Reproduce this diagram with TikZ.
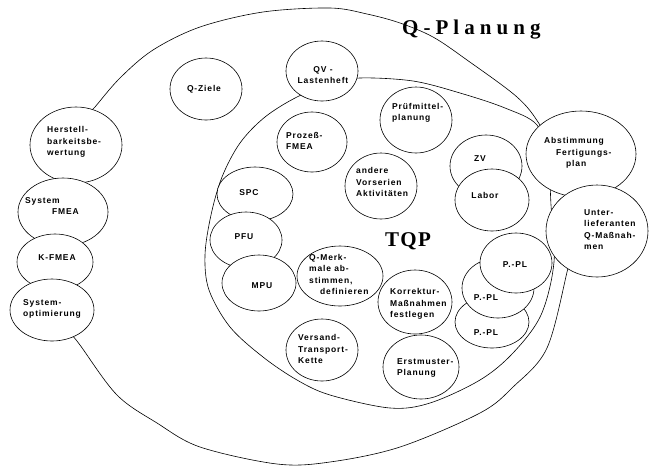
\documentclass[tikz,border=0pt]{standalone}
\usepackage{fontspec}
\usetikzlibrary{shapes.geometric}
\newfontfamily\lblfamily{Liberation Sans}[LetterSpace=10]
\newfontfamily\ttlfamily{Liberation Serif}[LetterSpace=24]
\newfontfamily\tqpfamily{Liberation Serif}[LetterSpace=6]
\newcommand\lblfont{\lblfamily\bfseries\fontsize{8.5}{11.5}\selectfont}
\newcommand\ttlfont{\ttlfamily\bfseries\fontsize{21}{24}\selectfont}
\newcommand\tqpfont{\tqpfamily\bfseries\fontsize{21}{24}\selectfont}
\tikzset{
  bub/.style={ellipse, draw, fill=white, line width=0.6pt, inner sep=0pt},
  lbl/.style={font=\lblfont, align=left, inner sep=0pt, anchor=west},
  ctr/.style={font=\lblfont, align=center, inner sep=0pt},
  ttl/.style={inner sep=0pt, anchor=base west},
  rim/.style={line width=0.6pt},
}
\newcommand\bub[5]{\node[bub, minimum width=#4pt, minimum height=#5pt] (#1) at (#2,#3) {};}
\begin{document}
\begin{tikzpicture}[x=1pt,y=-1pt]
\useasboundingbox (0,0) rectangle (649,467);
\fill[white] (0,0) rectangle (649,467);

% outer boundary: Q-Planung
\draw[rim] plot[smooth cycle, tension=0.55] coordinates {
  (80,125) (95,107) (120,78) (153,50) (200,27) (263,12) (330,8) (367,14)
  (400,23) (433,37) (467,60) (517,97) (540,125) (565,170) (578,225)
  (568,268) (547,348) (513,387) (480,413) (400,447) (330,462) (277,464)
  (200,447) (157,423) (117,395) (80,345) (55,310) (50,260) (55,210)};

% inner boundary: TQP
\draw[rim] plot[smooth cycle, tension=0.55] coordinates {
  (297,97) (330,84) (360,78) (413,81) (460,93) (505,108) (537,125)
  (548,160) (551,205) (554,262) (541,315) (513,353) (480,380) (430,403)
  (390,408) (330,395) (297,380) (263,357) (230,327) (209,290) (205,255)
  (211,215) (222,177) (240,143) (265,117)};

% bubbles on the outer ring
\bub{qziele}{206}{89}{72}{62}
\bub{qv}{322}{71}{72}{60}
\bub{herst}{76}{145}{92}{76}
\bub{sysfmea}{63}{212}{90}{68}
\bub{kfmea}{55}{262}{76}{56}
\bub{sysopt}{52}{310}{84}{62}
\bub{abst}{581}{154}{110}{86}
\bub{unterl}{597}{231}{102}{92}

% bubbles inside TQP
\bub{prozess}{312}{142}{70}{60}
\bub{pruef}{416}{120}{72}{66}
\bub{andere}{381}{186}{72}{66}
\bub{spc}{255}{194}{76}{54}
\bub{pfu}{246}{240}{72}{56}
\bub{mpu}{259}{283}{74}{56}
\bub{qmerk}{340}{276}{86}{60}
\bub{korr}{415}{302}{74}{64}
\bub{versand}{322}{350}{72}{62}
\bub{erst}{421}{367}{76}{64}
\bub{zv}{486}{166}{72}{62}
\bub{labor}{492}{200}{74}{62}
\bub{pplc}{492}{322}{74}{52}
\bub{pplb}{498}{288}{72}{60}
\bub{ppla}{516}{263}{72}{60}

% titles
\node[ttl, font=\ttlfont] (tQ) at (402,34.5) {Q-Planung};
\node[ttl, font=\tqpfont] (tT) at (385,246.5) {TQP};

% labels
\node[ctr] (lqziele) at (204,89) {Q-Ziele};
\node[ctr] (lqv) at (323,75) {QV -\\Lastenheft};
\node[lbl] (lherst) at (47,142) {Herstell-\\barkeitsbe-\\wertung};
\node[lbl] (lsysfmea) at (25,206) {System\\\hspace*{27pt}FMEA};
\node[ctr] (lkfmea) at (57,258) {K-FMEA};
\node[lbl] (lsysopt) at (23,309) {System-\\optimierung};
\node[lbl] (lprozess) at (286,141) {Prozeß-\\FMEA};
\node[lbl] (lpruef) at (392,113) {Prüfmittel-\\planung};
\node[lbl] (landere) at (356,182) {andere\\Vorserien\\Aktivitäten};
\node[ctr] (lspc) at (249,193) {SPC};
\node[ctr] (lpfu) at (244,237) {PFU};
\node[ctr] (lmpu) at (262,286) {MPU};
\node[lbl] (lqmerk) at (309,274.5) {Q-Merk-\\male ab-\\stimmen,\\\hspace*{11pt}definieren};
\node[lbl] (lkorr) at (390,304) {Korrektur-\\Maßnahmen\\festlegen};
\node[lbl] (lversand) at (298,349) {Versand-\\Transport-\\Kette};
\node[lbl] (lerst) at (397,368) {Erstmuster-\\Planung};
\node[ctr] (lzv) at (480,159) {ZV};
\node[ctr] (llabor) at (485,195) {Labor};
\node[lbl] (labst) at (544,153) {Abstimmung\\\hspace*{12pt}Fertigungs-\\\hspace*{22pt}plan};
\node[lbl] (lunterl) at (584,229.5) {Unter-\\lieferanten\\Q-Maßnah-\\men};
\node[ctr] (lppla) at (515,265) {P.-PL};
\node[ctr] (lpplb) at (486,298) {P.-PL};
\node[ctr] (lpplc) at (486,333) {P.-PL};
\end{tikzpicture}
\end{document}
